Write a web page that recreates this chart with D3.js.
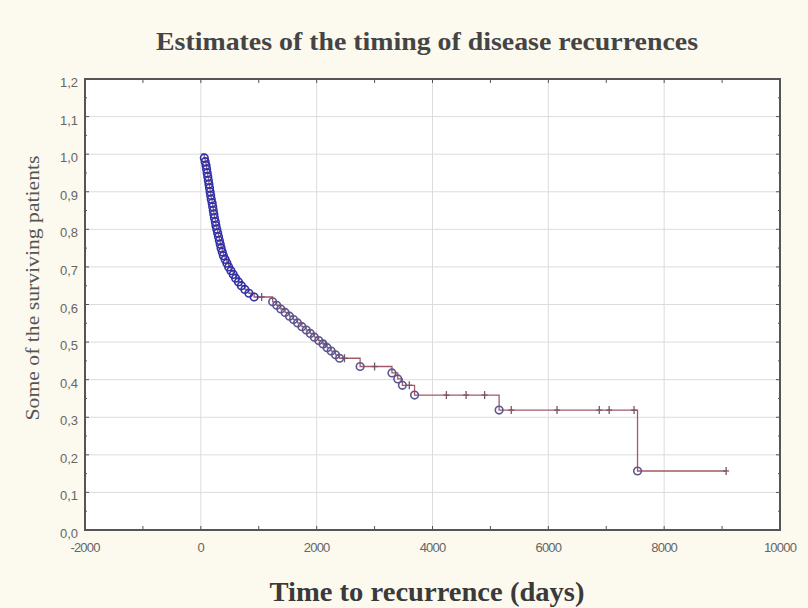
<!DOCTYPE html>
<html>
<head>
<meta charset="utf-8">
<script src="https://cdn.jsdelivr.net/npm/d3@7"></script>
<style>
  html, body { margin: 0; padding: 0; background: #fcf9ee; }
</style>
</head>
<body>
<div id="chart"></div>
<script>
// Kaplan-Meier style chart: estimates of the timing of disease recurrences

const width = 808;
const height = 608;
const margin = { top: 79, right: 28, bottom: 78, left: 85 };

// data
const eventTimes = [60, 75, 90, 100, 110, 120, 130, 140, 150, 160, 170, 180, 195, 205, 215, 225,
  235, 250, 260, 275, 290, 305, 320, 335, 350, 370, 390, 420, 450, 480, 520, 560, 600, 650,
  700, 760, 830, 920,
  1240, 1310, 1380, 1455, 1530, 1600, 1670, 1745, 1820, 1890, 1960, 2035, 2110, 2180, 2250,
  2325, 2395,
  2750, 3300, 3400, 3480, 3690, 5150, 7540];
const eventSurv = [0.99, 0.98, 0.97, 0.96, 0.95, 0.94, 0.93, 0.92, 0.91, 0.90, 0.89, 0.88, 0.87,
  0.86, 0.85, 0.84, 0.83, 0.82, 0.81, 0.80, 0.79, 0.78, 0.77, 0.76, 0.75, 0.74, 0.73, 0.72, 0.71,
  0.70, 0.69, 0.68, 0.67, 0.66, 0.65, 0.64, 0.63, 0.62,
  0.607, 0.598, 0.588, 0.579, 0.569, 0.560, 0.551, 0.541, 0.532, 0.523, 0.513, 0.504, 0.495,
  0.485, 0.476, 0.466, 0.457,
  0.435, 0.418, 0.402, 0.385, 0.359, 0.319, 0.157];

const censorTimes = [1050, 2150, 2480, 3000, 3600, 4240, 4580, 4900, 5360, 6150, 6880, 7050, 7480, 9070];
const censorSurv = [0.62, 0.495, 0.457, 0.435, 0.385, 0.359, 0.359, 0.359, 0.319, 0.319, 0.319, 0.319, 0.319, 0.157];

const xTicks = [-2000, 0, 2000, 4000, 6000, 8000, 10000];
const yTicks = [0, 0.1, 0.2, 0.3, 0.4, 0.5, 0.6, 0.7, 0.8, 0.9, 1.0, 1.1, 1.2];

const svg = d3.select("#chart")
  .append("svg")
  .attr("width", width)
  .attr("height", height);

svg.append("rect")
  .attr("width", width)
  .attr("height", height)
  .attr("fill", "#fcf9ee");

const x = d3.scaleLinear().domain([-2000, 10000]).range([margin.left, width - margin.right]);
const y = d3.scaleLinear().domain([0, 1.2]).range([height - margin.bottom, margin.top]);

// plot area
svg.append("rect")
  .attr("x", x(-2000))
  .attr("y", y(1.2))
  .attr("width", x(10000) - x(-2000))
  .attr("height", y(0) - y(1.2))
  .attr("fill", "#ffffff");

// grid
svg.append("g")
  .selectAll("line")
  .data(xTicks.slice(1, -1))
  .enter().append("line")
  .attr("x1", d => x(d)).attr("x2", d => x(d))
  .attr("y1", y(1.2)).attr("y2", y(0))
  .attr("stroke", "#dcdcdc");

svg.append("g")
  .selectAll("line")
  .data(yTicks.slice(1, -1))
  .enter().append("line")
  .attr("x1", x(-2000)).attr("x2", x(10000))
  .attr("y1", d => y(d)).attr("y2", d => y(d))
  .attr("stroke", "#dcdcdc");

// inside ticks
const minorX = d3.range(-2000, 10001, 1000);
const minorY = d3.range(0, 1.2001, 0.05);
const tickG = svg.append("g").attr("stroke", "#555").attr("stroke-width", 1);
tickG.selectAll(".tb").data(minorX).enter().append("line")
  .attr("x1", d => x(d)).attr("x2", d => x(d))
  .attr("y1", y(0)).attr("y2", y(0) - 4);
tickG.selectAll(".tt").data(minorX).enter().append("line")
  .attr("x1", d => x(d)).attr("x2", d => x(d))
  .attr("y1", y(1.2)).attr("y2", y(1.2) + 4);
tickG.selectAll(".tl").data(minorY).enter().append("line")
  .attr("x1", x(-2000)).attr("x2", (d, i) => x(-2000) + (i % 2 ? 2 : 4))
  .attr("y1", d => y(d)).attr("y2", d => y(d));
tickG.selectAll(".tr").data(minorY).enter().append("line")
  .attr("x1", x(10000)).attr("x2", (d, i) => x(10000) - (i % 2 ? 2 : 4))
  .attr("y1", d => y(d)).attr("y2", d => y(d));

// frame
svg.append("rect")
  .attr("x", x(-2000))
  .attr("y", y(1.2))
  .attr("width", x(10000) - x(-2000))
  .attr("height", y(0) - y(1.2))
  .attr("fill", "none")
  .attr("stroke", "#555")
  .attr("stroke-width", 2);

// tick labels
const fmtY = d => d3.format(".1f")(d).replace(".", ",");
svg.append("g")
  .selectAll("text")
  .data(yTicks)
  .enter().append("text")
  .attr("x", x(-2000) - 7)
  .attr("y", d => y(d) + 8)
  .attr("text-anchor", "end")
  .attr("font-family", "Liberation Sans, Arial, sans-serif")
  .attr("font-size", "13px")
  .attr("fill", "#666")
  .text(fmtY);

svg.append("g")
  .selectAll("text")
  .data(xTicks)
  .enter().append("text")
  .attr("x", d => x(d))
  .attr("y", y(0) + 22)
  .attr("text-anchor", "middle")
  .attr("font-family", "Liberation Sans, Arial, sans-serif")
  .attr("font-size", "13px")
  .attr("letter-spacing", "-0.8px")
  .attr("fill", "#666")
  .text(d => d);

// survival step line
const linePts = [[0, 1]].concat(eventTimes.map((t, i) => [t, eventSurv[i]]));
linePts.push([censorTimes[censorTimes.length - 1], censorSurv[censorSurv.length - 1]]);

const line = d3.line()
  .x(d => x(d[0]))
  .y(d => y(d[1]))
  .curve(d3.curveStepAfter);

svg.append("path")
  .datum(linePts)
  .attr("d", line)
  .attr("fill", "none")
  .attr("stroke", "#a35a66")
  .attr("stroke-width", 1.3);

// censored marks
const cens = svg.append("g").attr("stroke", "#7a5566").attr("stroke-width", 1.3);
censorTimes.forEach((t, i) => {
  const cx = x(t), cy = y(censorSurv[i]);
  cens.append("line").attr("x1", cx).attr("x2", cx).attr("y1", cy - 4).attr("y2", cy + 4);
  cens.append("line").attr("x1", cx - 3).attr("x2", cx + 3).attr("y1", cy).attr("y2", cy);
});

// events
svg.append("g")
  .selectAll("circle")
  .data(eventTimes)
  .enter().append("circle")
  .attr("cx", d => x(d))
  .attr("cy", (d, i) => y(eventSurv[i]))
  .attr("r", 3.8)
  .attr("fill", "none")
  .attr("stroke", (d, i) => i < 38 ? "#3030a8" : "#5a5690")
  .attr("stroke-width", 1.6);

// titles
svg.append("text")
  .attr("x", 427)
  .attr("y", 50)
  .attr("text-anchor", "middle")
  .attr("font-family", "Liberation Serif, Times New Roman, serif")
  .attr("font-weight", "bold")
  .attr("font-size", "25px")
  .attr("textLength", 542)
  .attr("lengthAdjust", "spacingAndGlyphs")
  .attr("fill", "#444")
  .text("Estimates of the timing of disease recurrences");

svg.append("text")
  .attr("x", 427)
  .attr("y", 601)
  .attr("text-anchor", "middle")
  .attr("font-family", "Liberation Serif, Times New Roman, serif")
  .attr("font-weight", "bold")
  .attr("font-size", "27px")
  .attr("textLength", 315)
  .attr("lengthAdjust", "spacingAndGlyphs")
  .attr("fill", "#3a3a3a")
  .text("Time to recurrence (days)");

svg.append("text")
  .attr("transform", "translate(39,288) rotate(-90)")
  .attr("text-anchor", "middle")
  .attr("font-family", "Liberation Serif, Times New Roman, serif")
  .attr("font-size", "18px")
  .attr("textLength", 265)
  .attr("lengthAdjust", "spacingAndGlyphs")
  .attr("fill", "#555")
  .text("Some of the surviving patients");
</script>
</body>
</html>
